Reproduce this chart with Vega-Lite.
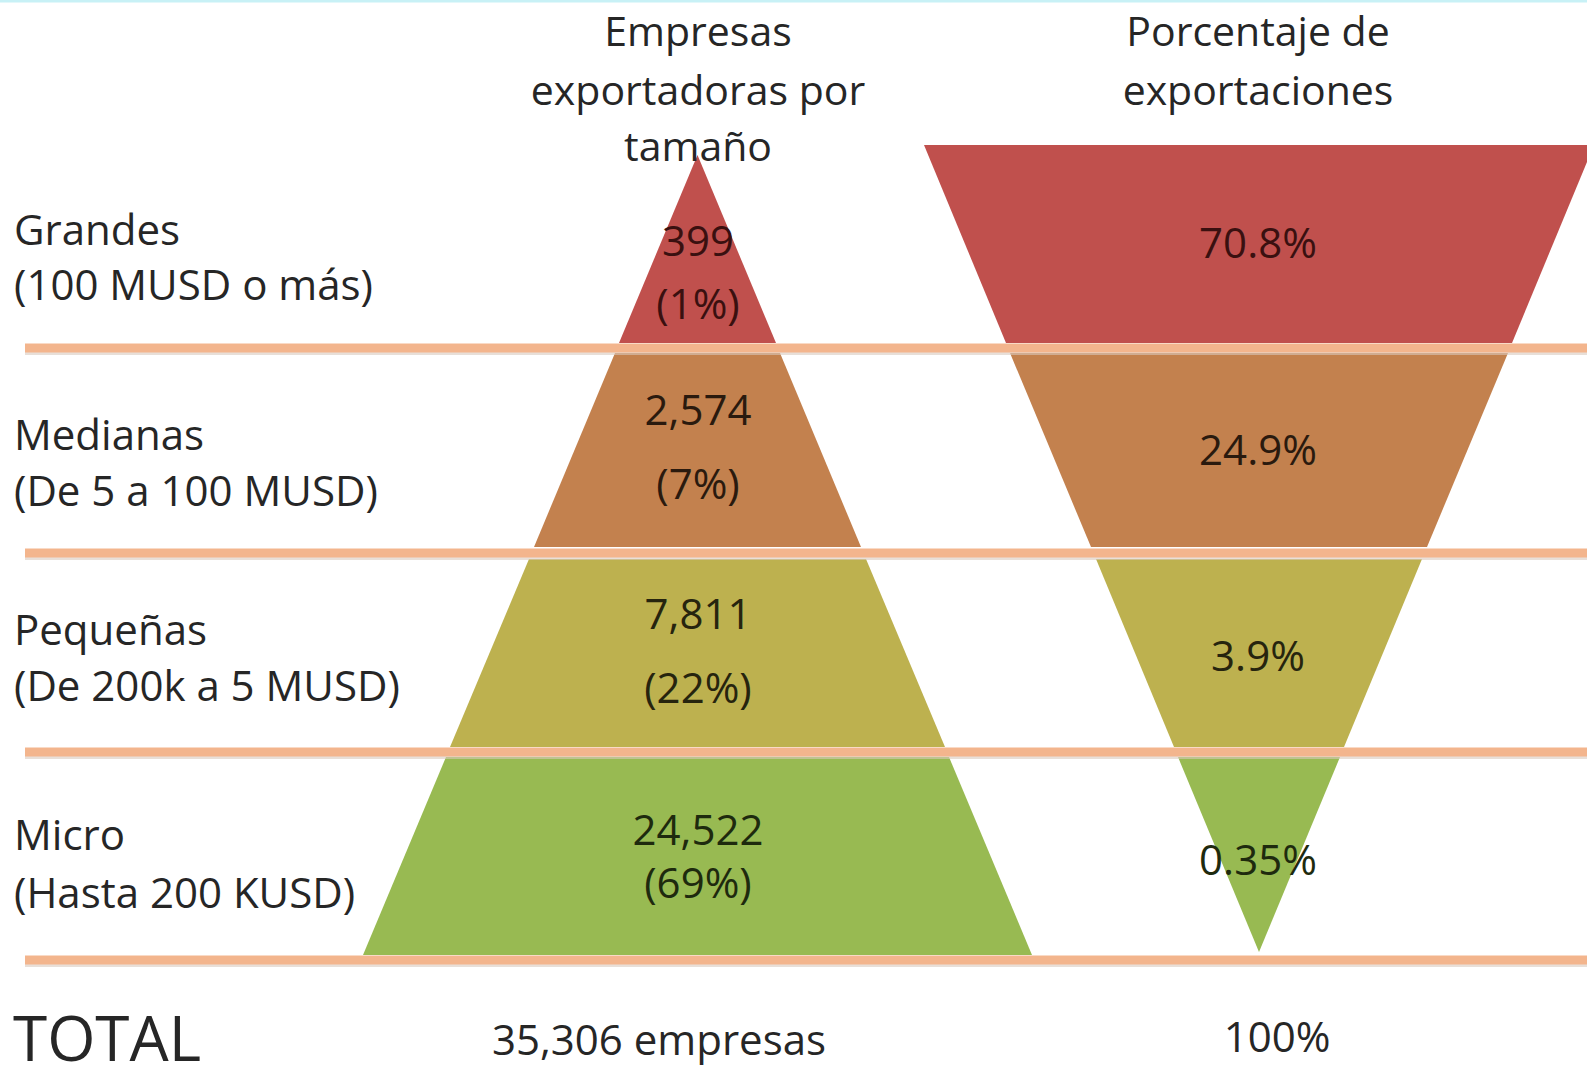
{
  "$schema": "https://vega.github.io/schema/vega-lite/v6.json",
  "width": 1587,
  "height": 1066,
  "padding": 0,
  "autosize": {"type": "none"},
  "background": "white",
  "config": {"view": {"stroke": null}, "font": "Open Sans"},
  "datasets": {
    "bands": [
      {"chart": "empresas", "segment": "Grandes", "id": "e1", "y": 155, "xl": 697.5, "xr": 697.5},
      {"chart": "empresas", "segment": "Grandes", "id": "e1", "y": 343, "xl": 619, "xr": 776},
      {"chart": "empresas", "segment": "Medianas", "id": "e2", "y": 353, "xl": 615, "xr": 780},
      {"chart": "empresas", "segment": "Medianas", "id": "e2", "y": 547, "xl": 534, "xr": 861},
      {"chart": "empresas", "segment": "Pequeñas", "id": "e3", "y": 559, "xl": 529, "xr": 866},
      {"chart": "empresas", "segment": "Pequeñas", "id": "e3", "y": 747, "xl": 450, "xr": 945},
      {"chart": "empresas", "segment": "Micro", "id": "e4", "y": 757, "xl": 446, "xr": 949},
      {"chart": "empresas", "segment": "Micro", "id": "e4", "y": 955, "xl": 363, "xr": 1032},
      {"chart": "exportaciones", "segment": "Grandes", "id": "x1", "y": 145, "xl": 924, "xr": 1594},
      {"chart": "exportaciones", "segment": "Grandes", "id": "x1", "y": 343, "xl": 1006, "xr": 1512},
      {"chart": "exportaciones", "segment": "Medianas", "id": "x2", "y": 353, "xl": 1010, "xr": 1508},
      {"chart": "exportaciones", "segment": "Medianas", "id": "x2", "y": 547, "xl": 1091, "xr": 1427},
      {"chart": "exportaciones", "segment": "Pequeñas", "id": "x3", "y": 559, "xl": 1096, "xr": 1422},
      {"chart": "exportaciones", "segment": "Pequeñas", "id": "x3", "y": 747, "xl": 1174, "xr": 1344},
      {"chart": "exportaciones", "segment": "Micro", "id": "x4", "y": 757, "xl": 1178, "xr": 1340},
      {"chart": "exportaciones", "segment": "Micro", "id": "x4", "y": 952, "xl": 1259, "xr": 1259}
    ],
    "separators": [
      {"y": 348, "x0": 25, "x1": 1587},
      {"y": 553, "x0": 25, "x1": 1587},
      {"y": 752, "x0": 25, "x1": 1587},
      {"y": 960, "x0": 25, "x1": 1587}
    ],
    "headers": [
      {"text": "Empresas", "x": 698, "y": 34},
      {"text": "exportadoras por", "x": 698, "y": 93},
      {"text": "tamaño", "x": 698, "y": 149},
      {"text": "Porcentaje de", "x": 1258, "y": 34},
      {"text": "exportaciones", "x": 1258, "y": 93}
    ],
    "categories": [
      {"text": "Grandes", "x": 14, "y": 232},
      {"text": "(100 MUSD o más)", "x": 14, "y": 287},
      {"text": "Medianas", "x": 14, "y": 437},
      {"text": "(De 5 a 100 MUSD)", "x": 14, "y": 493},
      {"text": "Pequeñas", "x": 14, "y": 632},
      {"text": "(De 200k a 5 MUSD)", "x": 14, "y": 688},
      {"text": "Micro", "x": 14, "y": 837},
      {"text": "(Hasta 200 KUSD)", "x": 14, "y": 895}
    ],
    "values": [
      {"text": "399", "x": 698, "y": 243, "segment": "Grandes"},
      {"text": "(1%)", "x": 698, "y": 306, "segment": "Grandes"},
      {"text": "2,574", "x": 698, "y": 412, "segment": "Medianas"},
      {"text": "(7%)", "x": 698, "y": 486, "segment": "Medianas"},
      {"text": "7,811", "x": 698, "y": 616, "segment": "Pequeñas"},
      {"text": "(22%)", "x": 698, "y": 690, "segment": "Pequeñas"},
      {"text": "24,522", "x": 698, "y": 832, "segment": "Micro"},
      {"text": "(69%)", "x": 698, "y": 885, "segment": "Micro"},
      {"text": "70.8%", "x": 1258, "y": 245, "segment": "Grandes"},
      {"text": "24.9%", "x": 1258, "y": 452, "segment": "Medianas"},
      {"text": "3.9%", "x": 1258, "y": 658, "segment": "Pequeñas"},
      {"text": "0.35%", "x": 1258, "y": 862, "segment": "Micro"}
    ],
    "totals": [
      {"text": "35,306 empresas", "x": 659, "y": 1042},
      {"text": "100%", "x": 1277, "y": 1039}
    ],
    "title": [
      {"text": "TOTAL", "x": 13, "y": 1061}
    ],
    "frame": [
      {"y": 1, "x0": 0, "x1": 1587}
    ]
  },
  "encoding": {
    "x": {"type": "quantitative", "scale": {"domain": [0, 1587], "nice": false, "zero": false}, "axis": null},
    "y": {"type": "quantitative", "scale": {"domain": [0, 1066], "nice": false, "zero": false, "reverse": true}, "axis": null}
  },
  "layer": [
    {
      "data": {"name": "frame"},
      "mark": {"type": "rule", "strokeWidth": 3, "color": "#C8F1F6"},
      "encoding": {"y": {"field": "y", "type": "quantitative"}, "x": {"field": "x0", "type": "quantitative"}, "x2": {"field": "x1"}}
    },
    {
      "data": {"name": "bands"},
      "mark": {"type": "area", "orient": "horizontal", "clip": true},
      "encoding": {
        "y": {"field": "y", "type": "quantitative"},
        "x": {"field": "xl", "type": "quantitative", "stack": null},
        "x2": {"field": "xr"},
        "detail": {"field": "id"},
        "color": {
          "field": "segment", "type": "nominal", "legend": null,
          "scale": {"domain": ["Grandes", "Medianas", "Pequeñas", "Micro"], "range": ["#C0504D", "#C3814E", "#BDB14F", "#98BA52"]}
        }
      }
    },
    {
      "data": {"name": "separators"},
      "mark": {"type": "rule", "strokeWidth": 6, "color": "#D9C9BE", "opacity": 0.6, "yOffset": 4},
      "encoding": {"y": {"field": "y", "type": "quantitative"}, "x": {"field": "x0", "type": "quantitative"}, "x2": {"field": "x1"}}
    },
    {
      "data": {"name": "separators"},
      "mark": {"type": "rule", "strokeWidth": 9, "color": "#F3B58D"},
      "encoding": {"y": {"field": "y", "type": "quantitative"}, "x": {"field": "x0", "type": "quantitative"}, "x2": {"field": "x1"}}
    },
    {
      "data": {"name": "headers"},
      "mark": {"type": "text", "fontSize": 41, "color": "#262626", "align": "center", "baseline": "middle"},
      "encoding": {"x": {"field": "x", "type": "quantitative"}, "y": {"field": "y", "type": "quantitative"}, "text": {"field": "text"}}
    },
    {
      "data": {"name": "categories"},
      "mark": {"type": "text", "fontSize": 42, "color": "#262626", "align": "left", "baseline": "middle"},
      "encoding": {"x": {"field": "x", "type": "quantitative"}, "y": {"field": "y", "type": "quantitative"}, "text": {"field": "text"}}
    },
    {
      "data": {"name": "values"},
      "mark": {"type": "text", "fontSize": 42, "align": "center", "baseline": "middle"},
      "encoding": {
        "x": {"field": "x", "type": "quantitative"},
        "y": {"field": "y", "type": "quantitative"},
        "text": {"field": "text"},
        "fill": {
          "field": "segment", "type": "nominal", "legend": null,
          "scale": {"domain": ["Grandes", "Medianas", "Pequeñas", "Micro"], "range": ["#3A1010", "#2A1A0E", "#26240E", "#1E2A0E"]}
        }
      }
    },
    {
      "data": {"name": "totals"},
      "mark": {"type": "text", "fontSize": 42, "color": "#262626", "align": "center", "baseline": "middle"},
      "encoding": {"x": {"field": "x", "type": "quantitative"}, "y": {"field": "y", "type": "quantitative"}, "text": {"field": "text"}}
    },
    {
      "data": {"name": "title"},
      "mark": {"type": "text", "fontSize": 62, "color": "#262626", "align": "left", "baseline": "alphabetic"},
      "encoding": {"x": {"field": "x", "type": "quantitative"}, "y": {"field": "y", "type": "quantitative"}, "text": {"field": "text"}}
    }
  ],
  "resolve": {"scale": {"fill": "independent", "color": "independent"}}
}
